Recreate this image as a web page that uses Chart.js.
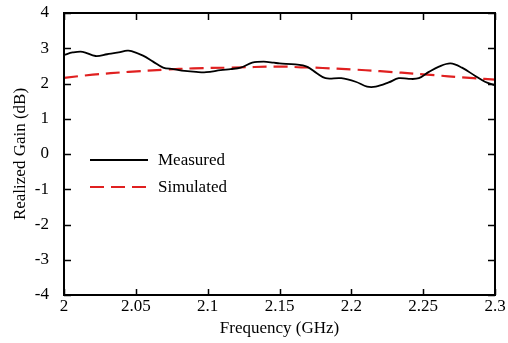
<!DOCTYPE html>
<html>
<head>
<meta charset="utf-8">
<script src="https://cdn.jsdelivr.net/npm/chart.js@4"></script>
<style>
  html, body { margin: 0; padding: 0; background: #fff; }
  #wrap { width: 508px; height: 343px; }
</style>
</head>
<body>
<div id="wrap"><canvas id="gain"></canvas></div>
<script>
// frequencies (GHz) and measured gain (dB)
const measFreq = [2.000, 2.006, 2.013, 2.022, 2.030, 2.038, 2.044, 2.047, 2.055, 2.062,
  2.069, 2.076, 2.084, 2.092, 2.099, 2.109, 2.116, 2.123, 2.131, 2.139,
  2.146, 2.150, 2.161, 2.169, 2.176, 2.182, 2.193, 2.203, 2.211, 2.217,
  2.226, 2.233, 2.240, 2.247, 2.254, 2.261, 2.269, 2.277, 2.286, 2.293, 2.300];
const measGain = [2.81, 2.88, 2.90, 2.78, 2.83, 2.88, 2.93, 2.92, 2.79, 2.62,
  2.45, 2.41, 2.36, 2.33, 2.32, 2.38, 2.41, 2.45, 2.59, 2.62,
  2.59, 2.57, 2.54, 2.48, 2.29, 2.15, 2.15, 2.05, 1.91, 1.91,
  2.03, 2.15, 2.13, 2.15, 2.33, 2.48, 2.57, 2.45, 2.22, 2.05, 1.95];

// simulated gain (dB)
const simFreq = [2.000, 2.020, 2.045, 2.070, 2.090, 2.115, 2.150, 2.165, 2.180, 2.200, 2.220, 2.250, 2.285, 2.300];
const simGain = [2.16, 2.25, 2.33, 2.39, 2.43, 2.45, 2.48, 2.46, 2.44, 2.40, 2.35, 2.26, 2.15, 2.11];

const seriesNames = ["Measured", "Simulated"];

const FONT = "'Liberation Serif', 'Times New Roman', serif";
const FS = 17;

// box frame + inward ticks on all four sides
const frame = {
  id: "frame",
  afterDraw(chart) {
    const { ctx, chartArea: a, scales } = chart;
    ctx.save();
    ctx.strokeStyle = "#000";
    ctx.lineWidth = 2;
    ctx.strokeRect(a.left, a.top, a.right - a.left, a.bottom - a.top);
    ctx.lineWidth = 1.5;
    ctx.beginPath();
    scales.x.ticks.forEach(t => {
      const x = Math.round(scales.x.getPixelForValue(t.value)) + 0.5;
      ctx.moveTo(x, a.bottom); ctx.lineTo(x, a.bottom - 6);
      ctx.moveTo(x, a.top); ctx.lineTo(x, a.top + 7);
    });
    scales.y.ticks.forEach(t => {
      const y = Math.round(scales.y.getPixelForValue(t.value)) + 0.5;
      ctx.moveTo(a.left, y); ctx.lineTo(a.left + 7, y);
      ctx.moveTo(a.right, y); ctx.lineTo(a.right - 7, y);
    });
    ctx.stroke();
    ctx.restore();
  }
};

// legend inside the plot, lower left
const innerLegend = {
  id: "innerLegend",
  afterDraw(chart) {
    const ctx = chart.ctx;
    ctx.save();
    ctx.font = FS + "px " + FONT;
    ctx.textBaseline = "middle";
    chart.data.datasets.forEach((ds, i) => {
      const y = 160 + i * 27;
      ctx.beginPath();
      ctx.strokeStyle = ds.borderColor;
      ctx.lineWidth = ds.borderWidth;
      ctx.setLineDash(ds.borderDash || []);
      ctx.moveTo(90, y); ctx.lineTo(148, y);
      ctx.stroke();
      ctx.setLineDash([]);
      ctx.fillStyle = "#000";
      ctx.fillText(ds.label, 158, y + 1);
    });
    ctx.restore();
  }
};

// drop the extra room Chart.js keeps for half tick labels
const noEdgePad = s => {
  s.paddingTop = 0; s.paddingBottom = 0;
  s.paddingLeft = 0; s.paddingRight = 0;
};

new Chart(document.getElementById("gain"), {
  type: "line",
  data: {
    datasets: [
      {
        label: seriesNames[0],
        data: measFreq.map((f, i) => ({ x: f, y: measGain[i] })),
        borderColor: "#000",
        borderWidth: 1.8,
        pointRadius: 0,
        tension: 0.35,
        fill: false
      },
      {
        label: seriesNames[1],
        data: simFreq.map((f, i) => ({ x: f, y: simGain[i] })),
        borderColor: "#e02020",
        borderWidth: 2.2,
        borderDash: [14, 7],
        pointRadius: 0,
        tension: 0.4,
        fill: false
      }
    ]
  },
  options: {
    responsive: true,
    maintainAspectRatio: false,
    animation: false,
    layout: { padding: { left: 6, right: 13, top: 13, bottom: 0 } },
    plugins: { legend: { display: false }, tooltip: { enabled: false } },
    scales: {
      x: {
        type: "linear",
        min: 2, max: 2.3,
        grid: { display: false, drawTicks: false },
        border: { display: false },
        ticks: {
          stepSize: 0.05,
          padding: 1,
          color: "#000",
          font: { family: FONT, size: FS },
          maxRotation: 0,
          callback: v => String(+v.toFixed(2))
        },
        title: { display: true, text: "Frequency (GHz)", color: "#000", font: { family: FONT, size: FS } },
        afterFit: s => { s.height = 48; noEdgePad(s); }
      },
      y: {
        min: -4, max: 4,
        grid: { display: false, drawTicks: false },
        border: { display: false },
        ticks: {
          stepSize: 1,
          padding: 15,
          color: "#000",
          font: { family: FONT, size: FS }
        },
        title: { display: true, text: "Realized Gain (dB)", color: "#000", font: { family: FONT, size: FS } },
        afterFit: s => { s.width = 58; noEdgePad(s); }
      }
    }
  },
  plugins: [frame, innerLegend]
});
</script>
</body>
</html>
